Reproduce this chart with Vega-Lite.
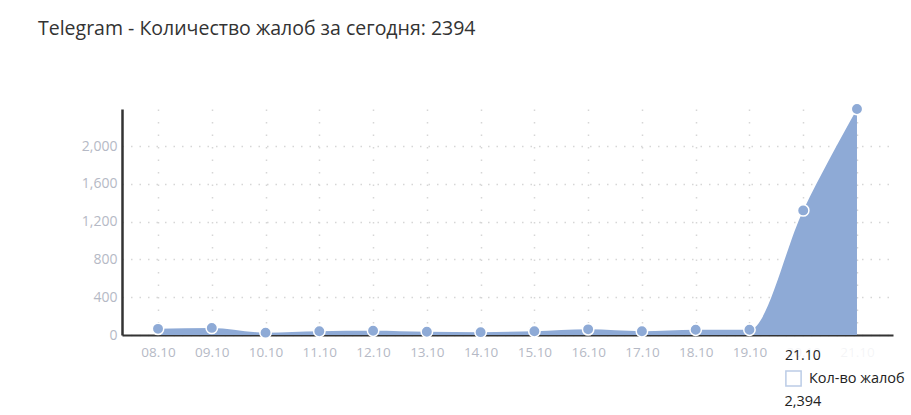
{
  "$schema": "https://vega.github.io/schema/vega-lite/v6.json",
  "width": 771,
  "height": 226,
  "autosize": {"type": "none"},
  "padding": {"left": 122, "top": 109, "right": 18, "bottom": 80},
  "background": "white",
  "config": {
    "font": "Open Sans",
    "view": {"stroke": null}
  },
  "title": {
    "text": "Telegram - Количество жалоб за сегодня: 2394",
    "fontSize": 19.5,
    "fontWeight": "normal",
    "color": "#333333",
    "font": "Open Sans",
    "anchor": "start",
    "frame": "group",
    "dx": -84,
    "offset": 61
  },
  "data": {
    "values": [
      {"date": "08.10", "count": 65},
      {"date": "09.10", "count": 75},
      {"date": "10.10", "count": 25},
      {"date": "11.10", "count": 40},
      {"date": "12.10", "count": 45},
      {"date": "13.10", "count": 35},
      {"date": "14.10", "count": 30},
      {"date": "15.10", "count": 40},
      {"date": "16.10", "count": 60},
      {"date": "17.10", "count": 40},
      {"date": "18.10", "count": 55},
      {"date": "19.10", "count": 55},
      {"date": "20.10", "count": 1320},
      {"date": "21.10", "count": 2394}
    ]
  },
  "encoding": {
    "x": {
      "field": "date",
      "type": "ordinal",
      "sort": null,
      "scale": {"type": "point", "padding": 0.67},
      "axis": {
        "title": null,
        "labelAngle": 0,
        "labelColor": "#b5b9c5",
        "labelFontSize": 13.5,
        "labelPadding": 10,
        "ticks": false,
        "domainColor": "#333333",
        "domainWidth": 2,
        "grid": true,
        "gridColor": "#d6d6d6",
        "gridDash": [1.5, 11],
        "gridWidth": 1.5
      }
    },
    "y": {
      "field": "count",
      "type": "quantitative",
      "scale": {"domain": [0, 2394], "nice": false},
      "axis": {
        "title": null,
        "values": [0, 400, 800, 1200, 1600, 2000],
        "format": ",.0f",
        "labelColor": "#b5b9c5",
        "labelFontSize": 14,
        "labelPadding": 5,
        "ticks": false,
        "domainColor": "#333333",
        "domainWidth": 2.5,
        "grid": true,
        "gridColor": "#d6d6d6",
        "gridDash": [1.5, 7],
        "gridWidth": 1.5
      }
    }
  },
  "layer": [
    {
      "mark": {"type": "area", "interpolate": "monotone", "opacity": 1},
      "encoding": {
        "color": {
          "datum": "Кол-во жалоб",
          "scale": {"range": ["#8eaad6"]},
          "legend": {
            "title": "21.10",
            "orient": "none",
            "legendX": 659,
            "legendY": 236,
            "titleFontSize": 14,
            "titleFontWeight": "normal",
            "titleColor": "#222222",
            "titlePadding": 7,
            "labelFontSize": 14.5,
            "labelColor": "#222222",
            "labelOffset": 7,
            "symbolType": "M-1,-1L1,-1L1,1L-1,1Z M-0.82,-0.82L-0.82,0.82L0.82,0.82L0.82,-0.82Z",
            "symbolSize": 280,
            "symbolOpacity": 0.6,
            "symbolStrokeWidth": 0,
            "fillColor": "rgba(255,255,255,0.85)",
            "padding": 4
          }
        }
      }
    },
    {
      "mark": {"type": "point", "filled": true, "fill": "#8eaad6", "size": 130, "stroke": "white", "strokeWidth": 1.5, "opacity": 1},
      "encoding": {
        "shape": {
          "datum": "2,394",
          "scale": {"range": ["circle"]},
          "legend": {
            "title": null,
            "orient": "none",
            "legendX": 648,
            "legendY": 286,
            "labelFontSize": 14.5,
            "labelColor": "#222222",
            "labelOffset": 0,
            "symbolSize": 0,
            "symbolOpacity": 0,
            "symbolStrokeWidth": 0
          }
        }
      }
    }
  ]
}
